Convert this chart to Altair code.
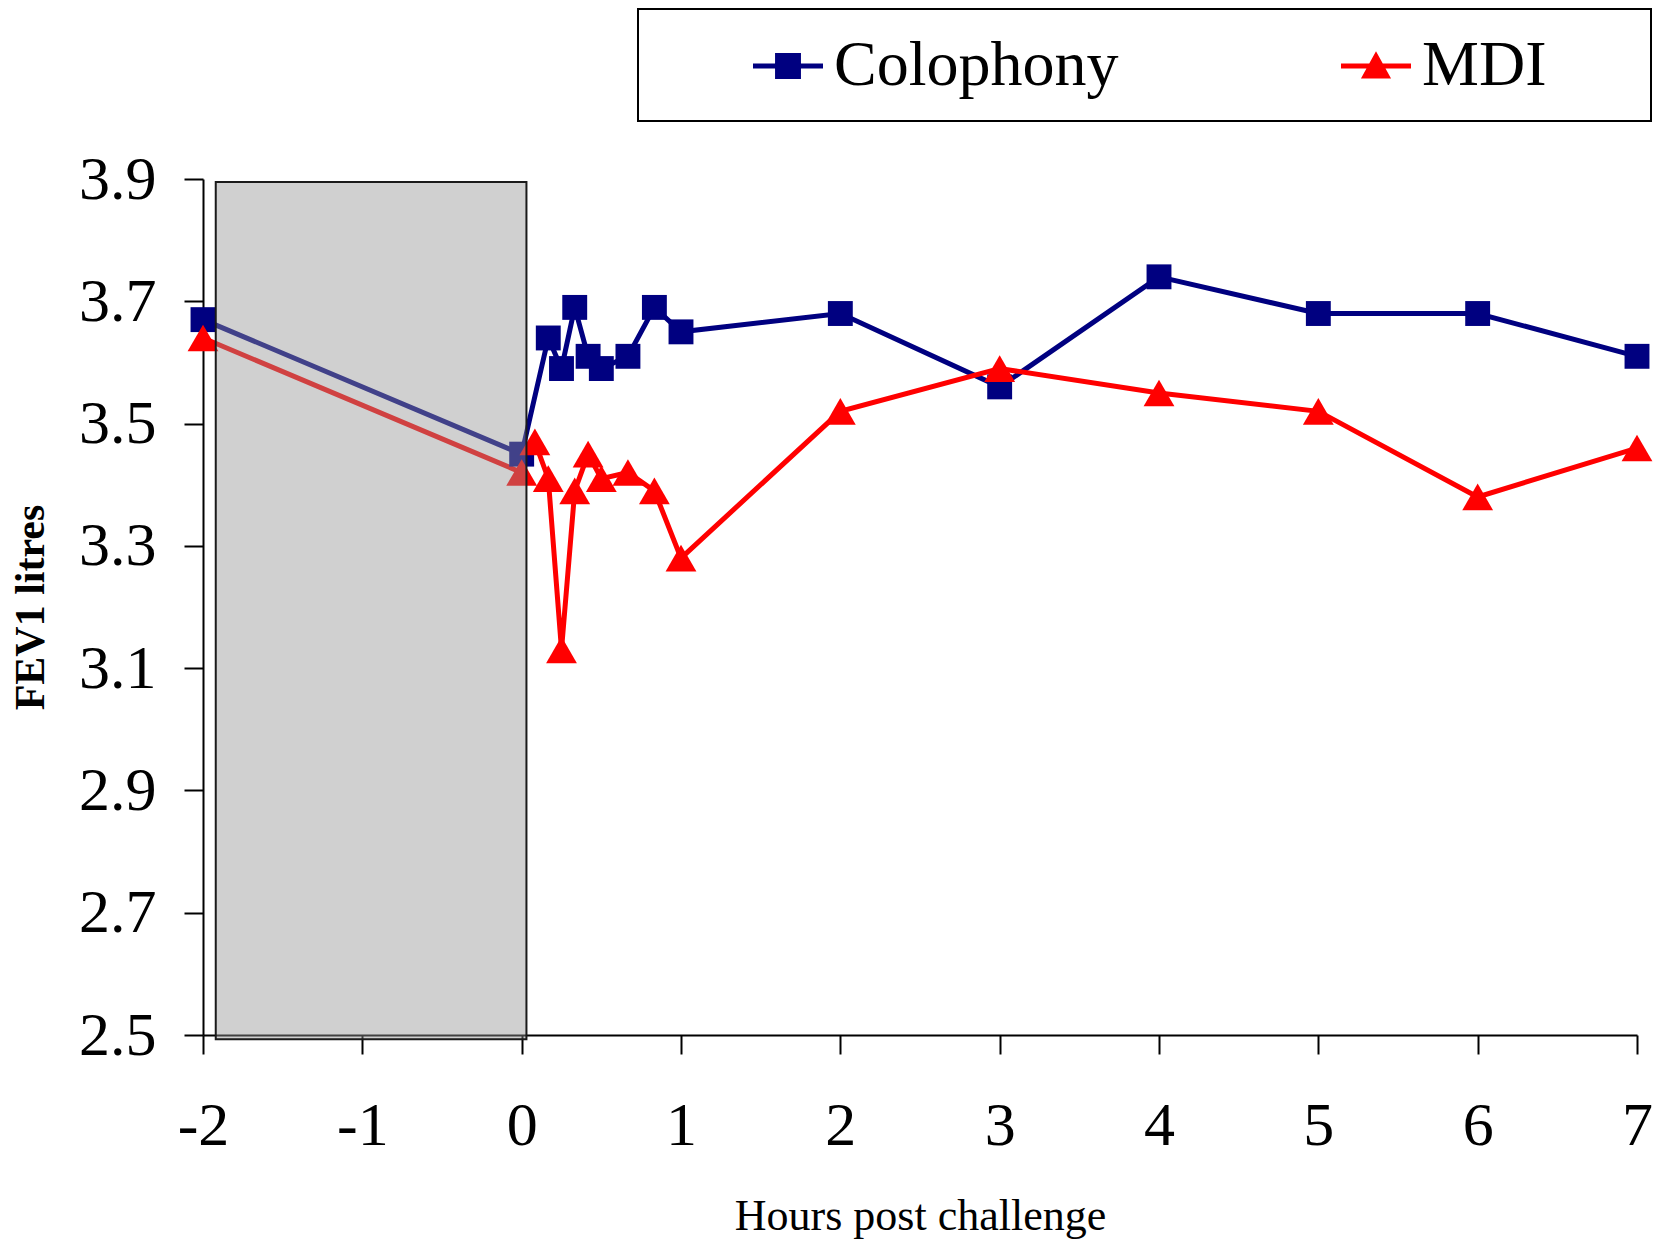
import altair as alt
import pandas as pd

# ---- data ----
col_hours = [-2, 0, 0.167, 0.25, 0.333, 0.417, 0.5, 0.667, 0.833, 1, 2, 3, 4, 5, 6, 7]
col_fev1 = [3.67, 3.45, 3.64, 3.59, 3.69, 3.61, 3.59, 3.61, 3.69, 3.65, 3.68, 3.56, 3.74, 3.68, 3.68, 3.61]

mdi_hours = [-2, 0, 0.083, 0.167, 0.25, 0.333, 0.417, 0.5, 0.667, 0.833, 1, 2, 3, 4, 5, 6, 7]
mdi_fev1 = [3.64, 3.42, 3.47, 3.41, 3.13, 3.39, 3.45, 3.41, 3.42, 3.39, 3.28, 3.52, 3.59, 3.55, 3.52, 3.38, 3.46]

series_names = ["Colophony", "MDI"]
series_colors = ["#000080", "#FF0000"]

x_ticks = [-2, -1, 0, 1, 2, 3, 4, 5, 6, 7]
y_ticks = [2.5, 2.7, 2.9, 3.1, 3.3, 3.5, 3.7, 3.9]

# shaded pre-challenge period
shade_start = [-1.92]
shade_end = [0.03]
shade_top = [3.895]
shade_bottom = [2.493]

df = pd.DataFrame({
    "Hours": col_hours + mdi_hours,
    "FEV1": col_fev1 + mdi_fev1,
    "Series": ["Colophony"] * len(col_hours) + ["MDI"] * len(mdi_hours),
})
shade = pd.DataFrame({"Hours": shade_start, "Hours2": shade_end,
                      "FEV1": shade_top, "FEV12": shade_bottom})

FONT = "Liberation Serif"

x_axis = alt.Axis(values=x_ticks, labelExpr="'' + datum.value", title="Hours post challenge", grid=False,
                  domainColor="black", domainWidth=2, tickColor="black", tickWidth=2,
                  tickSize=19, labelFont=FONT, labelFontSize=62, labelColor="black",
                  labelPadding=41, labelFlush=False, labelOverlap=False,
                  titleFont=FONT, titleFontSize=44, titleFontWeight="normal",
                  titleColor="black", titleBaseline="alphabetic", titleY=194)
y_axis = alt.Axis(values=y_ticks, format=".1f", title="FEV1 litres", grid=False,
                  domainColor="black", domainWidth=2, tickColor="black", tickWidth=2,
                  tickSize=19, labelFont=FONT, labelFontSize=62, labelColor="black",
                  labelPadding=28, labelFlush=False, labelOverlap=False,
                  titleFont=FONT, titleFontSize=42, titleFontWeight="bold",
                  titleColor="black", titleAngle=270, titleBaseline="middle",
                  titleAlign="center", titleX=-173, titleY=428)

x_scale = alt.Scale(domain=[-2, 7], nice=False, zero=False)
y_scale = alt.Scale(domain=[2.5, 3.9], nice=False, zero=False)
x_enc = alt.X("Hours:Q", scale=x_scale, axis=x_axis)
y_enc = alt.Y("FEV1:Q", scale=y_scale, axis=y_axis)
color_scale = alt.Scale(domain=series_names, range=series_colors)

lines = alt.Chart(df).mark_line(strokeWidth=5).encode(
    x=x_enc, y=y_enc,
    color=alt.Color("Series:N", scale=color_scale, legend=None),
)

points = alt.Chart(df).mark_point(filled=True, opacity=1).encode(
    x=x_enc, y=y_enc,
    color=alt.Color("Series:N", scale=color_scale, legend=None),
    shape=alt.Shape("Series:N", scale=alt.Scale(domain=series_names, range=["square", "triangle-up"]), legend=None),
    size=alt.condition(alt.datum.Series == "MDI", alt.value(950), alt.value(620)),
)

shade_layer = alt.Chart(shade).mark_rect(
    fill="#949494", fillOpacity=0.44, stroke="#1a1a1a", strokeWidth=2
).encode(x=x_enc, x2=alt.X2("Hours2"), y=y_enc, y2=alt.Y2("FEV12"))

legend_box = alt.Chart(pd.DataFrame({"k": [0]})).mark_rect(
    fill="white", stroke="black", strokeWidth=2
).encode(x=alt.value(435), x2=alt.value(1448), y=alt.value(-170), y2=alt.value(-58))

path_col = "M-1,-0.07L1,-0.07L1,0.07L-1,0.07Z M-0.37,-0.37L0.37,-0.37L0.37,0.37L-0.37,0.37Z"
path_mdi = "M-1,-0.07L1,-0.07L1,0.07L-1,0.07Z M0,-0.42L0.43,0.36L-0.43,0.36Z"

leg = alt.Legend(title=None, orient="none", legendX=550, legendY=-148,
                 direction="horizontal", columns=2, columnPadding=222, padding=0,
                 symbolSize=4900, symbolStrokeWidth=0, symbolOpacity=1, labelFont=FONT,
                 labelFontSize=64, labelColor="black", labelOffset=11, labelLimit=600)

legend_layer = alt.Chart(df).transform_filter("false").mark_point(filled=True, opacity=1).encode(
    x=x_enc, y=y_enc,
    color=alt.Color("Series:N", scale=color_scale, legend=leg),
    shape=alt.Shape("Series:N", scale=alt.Scale(domain=series_names, range=[path_col, path_mdi]), legend=leg),
)

chart = alt.layer(lines, points, shade_layer, legend_box, legend_layer).resolve_scale(
    color="independent", shape="independent"
).properties(
    width=1434, height=856,
    autosize=alt.AutoSizeParams(type="none"),
    padding={"left": 195, "top": 171, "right": 28, "bottom": 206},
    background="white",
).configure_view(stroke="transparent")

chart.save("out.html", embed_options={"renderer": "svg", "actions": False})
